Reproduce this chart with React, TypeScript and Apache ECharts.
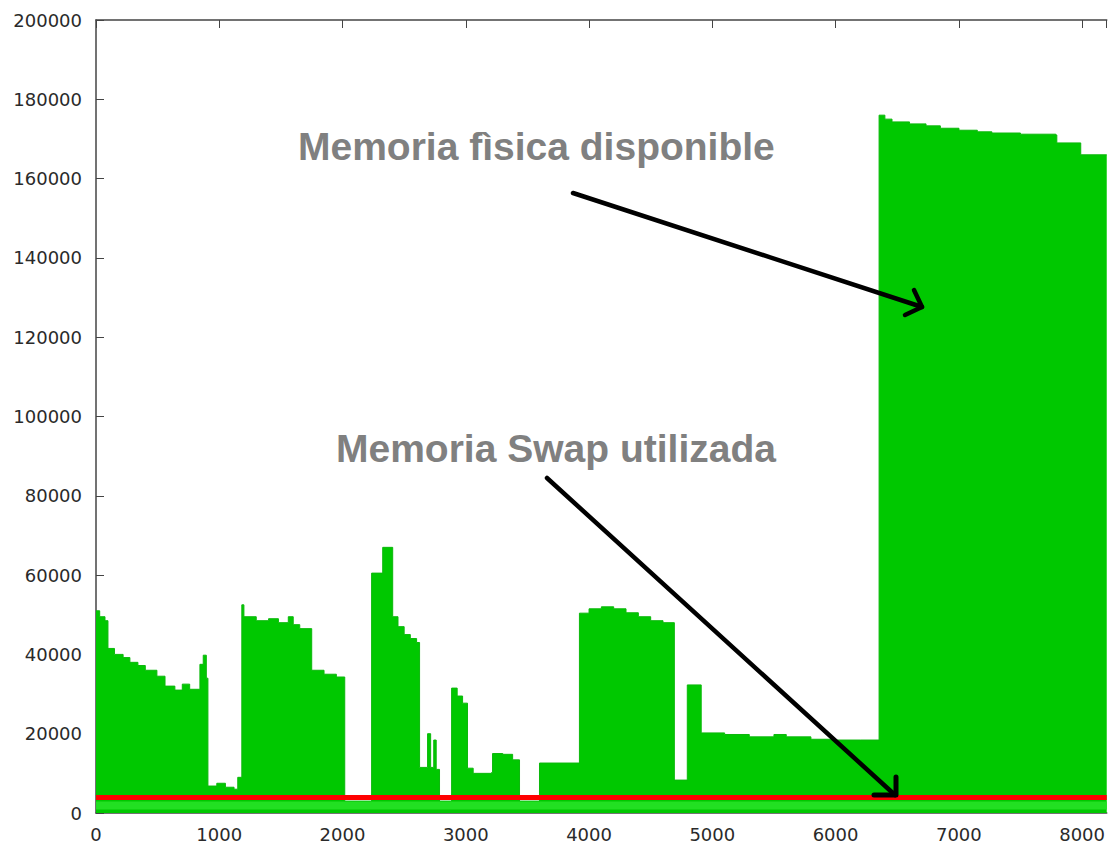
import React, { useEffect, useRef } from "react";
import * as echarts from "echarts";

// Memory trace: sample index (x) vs. available physical memory (step profile)
const sampleX = [
  0, 30, 73, 97, 150, 220, 275, 340, 400, 494, 560, 640, 700, 760, 843, 870, 895,
  908, 980, 1050, 1120, 1150, 1183, 1200, 1300, 1400, 1480, 1560, 1600, 1653, 1750,
  1850, 1950, 2018, 2236, 2326, 2407, 2450, 2500, 2550, 2601, 2625, 2690, 2715, 2740,
  2760, 2787, 2885, 2930, 2974, 3014, 3060, 3209, 3217, 3300, 3380, 3436, 3598, 3922,
  4000, 4100, 4200, 4300, 4400, 4500, 4600, 4692, 4797, 4910, 5100, 5300, 5500, 5600,
  5800, 6000, 6200, 6353, 6400, 6458, 6600, 6734, 6850, 7001, 7150, 7268, 7500, 7787,
  7795, 7989, 8200,
];
const freeMem = [
  51000, 49500, 48500, 41500, 40000, 39200, 38000, 37200, 36000, 34500, 32000, 31000,
  32500, 31200, 37500, 39800, 34000, 6800, 7500, 6500, 6000, 9000, 52500, 49500, 48500,
  49000, 48000, 49500, 47500, 46500, 36000, 35000, 34300, 3000, 60500, 67000, 49500,
  47000, 45000, 44000, 43000, 11500, 20000, 11500, 18400, 11000, 3000, 31500, 29500,
  27700, 11300, 10000, 10200, 15000, 14800, 13400, 3000, 12600, 50400, 51500, 52000,
  51500, 50500, 49500, 48500, 48000, 8300, 32300, 20200, 19800, 19200, 19800, 19200,
  18600, 18400, 18400, 176000, 175000, 174300, 173800, 173300, 172700, 172200, 171800,
  171500, 171200, 171000, 169000, 166000, 166000,
];

// Swap in use (flat) and the light base band under it
const swapX = [0, 8200];
const swapUsed = [3900, 3900];
const baseBand = [1900, 1900];

const xTicks = [0, 1000, 2000, 3000, 4000, 5000, 6000, 7000, 8000];
const yTicks = [0, 20000, 40000, 60000, 80000, 100000, 120000, 140000, 160000, 180000, 200000];

const labelPhysical = "Memoria fìsica disponible";
const labelSwap = "Memoria Swap utilizada";

const pairs = (xs: number[], ys: number[]) => xs.map((x, i) => [x, ys[i]]);
const plain = (v: number) => String(Math.round(v));

export default function App() {
  const ref = useRef<HTMLDivElement>(null);

  useEffect(() => {
    if (!ref.current) return;
    const chart = echarts.init(ref.current, undefined, { renderer: "svg" });
    const axisColor = "#444";
    const tickFont = {
      fontFamily: "DejaVu Sans",
      fontSize: 18,
      color: "#2a2a2a",
      formatter: plain,
    };
    chart.setOption({
      animation: false,
      backgroundColor: "#ffffff",
      grid: { left: 96, right: 0, top: 20, bottom: 30 },
      xAxis: [
        {
          type: "value",
          min: xTicks[0],
          max: 8200,
          interval: 1000,
          axisLine: { show: true, lineStyle: { color: axisColor, width: 1.5 } },
          axisTick: { show: true, inside: true, length: 8, lineStyle: { color: axisColor } },
          axisLabel: { ...tickFont, margin: 12, showMaxLabel: false },
          splitLine: { show: false },
        },
        {
          type: "value",
          position: "top",
          min: xTicks[0],
          max: 8200,
          interval: 1000,
          axisLine: { show: true, onZero: false, lineStyle: { color: axisColor, width: 1.5 } },
          axisTick: { show: true, inside: true, length: 8, lineStyle: { color: axisColor } },
          axisLabel: { show: false },
          splitLine: { show: false },
        },
      ],
      yAxis: {
        type: "value",
        min: yTicks[0],
        max: yTicks[yTicks.length - 1],
        interval: 20000,
        axisLine: { show: true, lineStyle: { color: axisColor, width: 1.5 } },
        axisTick: { show: true, inside: true, length: 8, lineStyle: { color: axisColor } },
        axisLabel: { ...tickFont, margin: 14 },
        splitLine: { show: false },
      },
      series: [
        {
          name: labelPhysical,
          type: "line",
          step: "end",
          symbol: "none",
          data: pairs(sampleX, freeMem),
          lineStyle: { color: "#0cb80c", width: 1 },
          areaStyle: { color: "#00c800", opacity: 1 },
          z: 2,
        },
        {
          name: "base",
          type: "line",
          symbol: "none",
          data: pairs(swapX, baseBand),
          lineStyle: { color: "#22e022", width: 8 },
          z: 3,
        },
        {
          name: labelSwap,
          type: "line",
          symbol: "none",
          data: pairs(swapX, swapUsed),
          lineStyle: { color: "#ff0000", width: 5 },
          z: 4,
        },
      ],
      graphic: [
        {
          type: "text",
          x: 298,
          y: 146,
          z: 100,
          style: {
            text: labelPhysical,
            fill: "#808080",
            font: "bold 39px 'Liberation Sans', Arial, sans-serif",
            verticalAlign: "middle",
            align: "left",
          },
        },
        {
          type: "text",
          x: 336,
          y: 448,
          z: 100,
          style: {
            text: labelSwap,
            fill: "#808080",
            font: "bold 39px 'Liberation Sans', Arial, sans-serif",
            verticalAlign: "middle",
            align: "left",
          },
        },
        {
          type: "polyline",
          z: 100,
          shape: { points: [[573, 193], [922, 307]] },
          style: { stroke: "#000", lineWidth: 4.5, lineCap: "round", fill: null },
        },
        {
          type: "polyline",
          z: 100,
          shape: { points: [[914, 290], [922, 307], [905, 315]] },
          style: { stroke: "#000", lineWidth: 4.5, lineCap: "round", lineJoin: "round", fill: null },
        },
        {
          type: "polyline",
          z: 100,
          shape: { points: [[547, 478], [895, 795]] },
          style: { stroke: "#000", lineWidth: 4.5, lineCap: "round", fill: null },
        },
        {
          type: "polyline",
          z: 100,
          shape: { points: [[896, 777], [896, 795], [874, 795]] },
          style: { stroke: "#000", lineWidth: 5, lineCap: "round", lineJoin: "round", fill: null },
        },
      ],
    });
    return () => chart.dispose();
  }, []);

  return (
    <div
      ref={ref}
      style={{ position: "fixed", left: 0, top: 0, width: 1108, height: 843, background: "#fff" }}
    />
  );
}
